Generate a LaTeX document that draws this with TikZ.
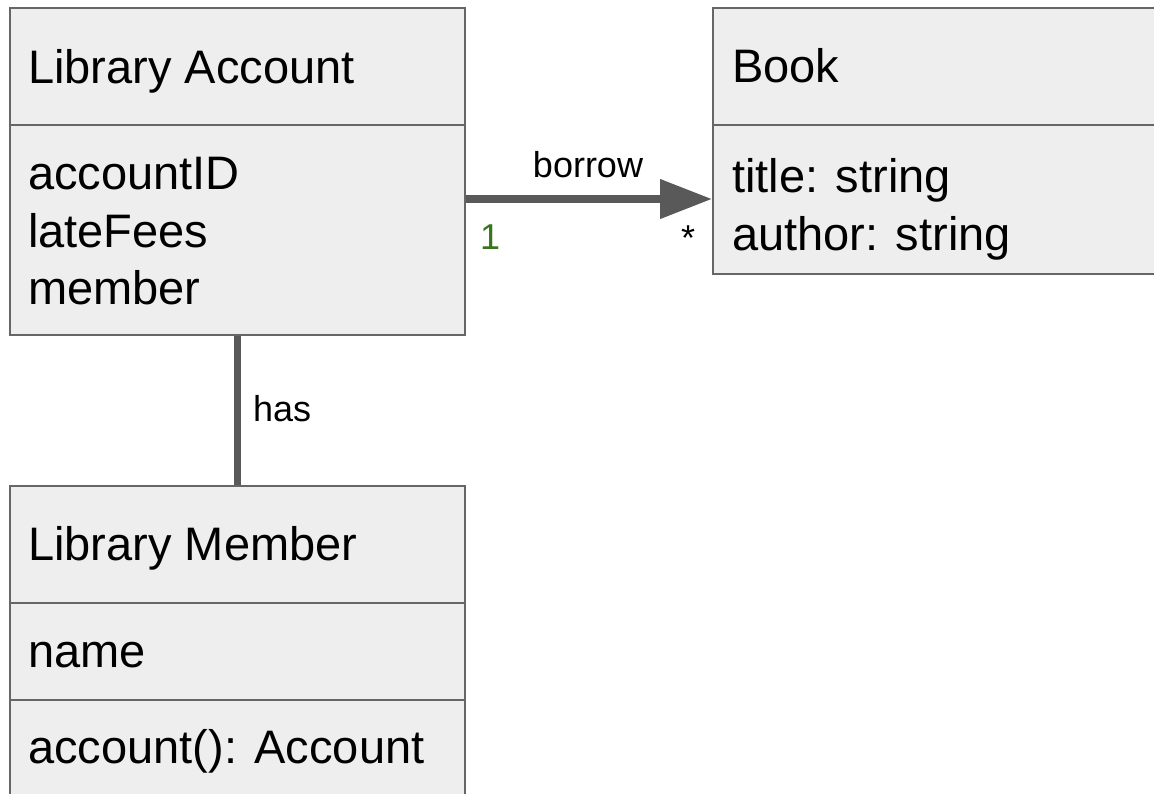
\documentclass[tikz,border=0pt]{standalone}
\usepackage{fontspec}
\setmainfont{Liberation Sans}
\usetikzlibrary{arrows.meta}
\definecolor{boxfill}{HTML}{EEEEEE}
\definecolor{boxline}{HTML}{666666}
\definecolor{conncol}{HTML}{595959}
\definecolor{multgreen}{HTML}{38761D}
\begin{document}
\begin{tikzpicture}[x=1pt,y=-1pt,
  umlbox/.style={draw=boxline, fill=boxfill, line width=2pt, inner sep=0pt, anchor=north west},
  divider/.style={draw=boxline, line width=2pt},
  txt/.style={inner sep=0pt, anchor=base west, font=\fontsize{47}{56}\selectfont},
  lbl/.style={inner sep=0pt, anchor=base west, font=\fontsize{36}{43}\selectfont},
  conn/.style={draw=conncol, line width=7.5pt}]
\useasboundingbox (0,0) rectangle (1154,793);
\fill[white] (0,0) rectangle (1154,793);
% boxes
\node[umlbox, minimum width=455pt, minimum height=327pt] (acc) at (9,7) {};
\node[umlbox, minimum width=470pt, minimum height=266pt] (book) at (712,7) {};
\node[umlbox, minimum width=455pt, minimum height=330pt] (mem) at (9,485) {};
% dividers
\coordinate (d1) at (0,125);
\coordinate (d2) at (0,603);
\coordinate (d3) at (0,700);
\draw[divider] (acc.west |- d1) -- (acc.east |- d1);
\draw[divider] (book.west |- d1) -- (book.east |- d1);
\draw[divider] (mem.west |- d2) -- (mem.east |- d2);
\draw[divider] (mem.west |- d3) -- (mem.east |- d3);
% texts
\node[txt] (accT) at (28,83) {Library Account};
\node[txt] (accA1) at (28,189) {accountID};
\node[txt] (accA2) at (28,247) {lateFees};
\node[txt] (accA3) at (28,304) {member};
\node[txt] (bookT) at (732,82) {Book};
\node[txt] (bookA1) at (732,192) {title: string};
\node[txt] (bookA2) at (732,250) {author: string};
\node[txt] (memT) at (28,560) {Library Member};
\node[txt] (memA1) at (28,667) {name};
\node[txt] (memO1) at (28,763) {account(): Account};
% connectors
\coordinate (ay) at (0,199);
\draw[conn, -{Triangle[length=52pt,width=38pt]}] (acc.east |- ay) -- (book.west |- ay);
\draw[conn] (acc.south) -- (mem.north);
% labels
\node[lbl, anchor=base] (borrow) at (588,177) {borrow};
\node[lbl, text=multgreen] (one) at (480,249) {1};
\node[lbl, anchor=base] (star) at (688,250) {*};
\node[lbl] (has) at (253,421) {has};
\end{tikzpicture}
\end{document}
